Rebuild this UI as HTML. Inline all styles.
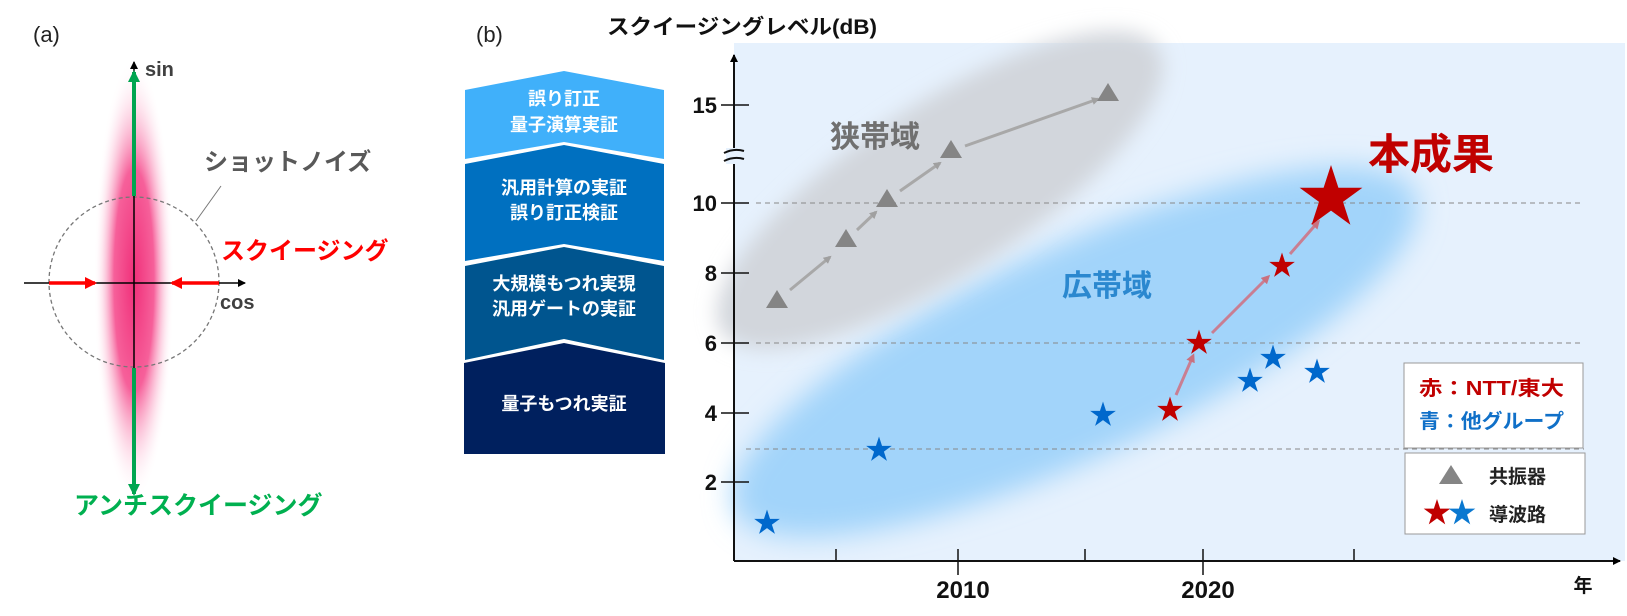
<!DOCTYPE html>
<html><head><meta charset="utf-8"><style>
html,body{margin:0;padding:0;background:#fff;}
svg{display:block;font-family:"Liberation Sans","Noto Sans CJK JP",sans-serif;font-weight:bold;}
</style></head><body>
<svg width="1627" height="616" viewBox="0 0 1627 616" xmlns="http://www.w3.org/2000/svg">
<defs>
<polygon id="st" points="0,-1 0.2245,-0.309 0.951,-0.309 0.3633,0.118 0.5878,0.809 0,0.382 -0.5878,0.809 -0.3633,0.118 -0.951,-0.309 -0.2245,-0.309"/>
<filter id="b1" x="-50%" y="-50%" width="200%" height="200%"><feGaussianBlur stdDeviation="14"/></filter>
<filter id="b2" x="-50%" y="-50%" width="200%" height="200%"><feGaussianBlur stdDeviation="10"/></filter>
<radialGradient id="pk" cx="0.5" cy="0.5" r="0.5">
<stop offset="0" stop-color="#f0307a"/><stop offset="0.5" stop-color="#f6609a"/><stop offset="1" stop-color="#ffffff" stop-opacity="0"/></radialGradient>
<marker id="ag" markerWidth="8" markerHeight="8" refX="6" refY="4" orient="auto" markerUnits="userSpaceOnUse"><path d="M0,0 L8,4 L0,8 Z" fill="#a0a0a0"/></marker>
<marker id="ar" markerWidth="9" markerHeight="9" refX="6" refY="4.5" orient="auto" markerUnits="userSpaceOnUse"><path d="M0,0 L9,4.5 L0,9 Z" fill="#d0606a"/></marker>
<marker id="ak" markerWidth="8" markerHeight="8" refX="7" refY="4" orient="auto" markerUnits="userSpaceOnUse"><path d="M0,0 L8,4 L0,8 Z" fill="#000"/></marker>
<marker id="agr" markerWidth="12" markerHeight="12" refX="10" refY="6" orient="auto" markerUnits="userSpaceOnUse"><path d="M0,0 L12,6 L0,12 Z" fill="#00a550"/></marker>
<marker id="ard" markerWidth="12" markerHeight="12" refX="10" refY="6" orient="auto" markerUnits="userSpaceOnUse"><path d="M0,0 L12,6 L0,12 Z" fill="#ff0000"/></marker>
</defs>

<!-- Panel (a) -->
<text x="33" y="42" font-size="22" font-weight="normal" fill="#222">(a)</text>
<ellipse cx="134" cy="280" rx="40" ry="222" fill="url(#pk)"/>
<circle cx="134" cy="282" r="85" fill="none" stroke="#777" stroke-width="1.3" stroke-dasharray="4,3"/>
<line x1="134" y1="470" x2="134" y2="62" stroke="#000" stroke-width="1.5" marker-end="url(#ak)"/>
<line x1="24" y1="283" x2="245" y2="283" stroke="#000" stroke-width="1.5" marker-end="url(#ak)"/>
<line x1="134" y1="196" x2="134" y2="72" stroke="#00a550" stroke-width="4" marker-end="url(#agr)"/>
<line x1="134" y1="368" x2="134" y2="494" stroke="#00a550" stroke-width="4" marker-end="url(#agr)"/>
<line x1="49" y1="283" x2="95" y2="283" stroke="#ff0000" stroke-width="3.5" marker-end="url(#ard)"/>
<line x1="219" y1="283" x2="172" y2="283" stroke="#ff0000" stroke-width="3.5" marker-end="url(#ard)"/>
<text x="145" y="76" font-size="20" fill="#404040">sin</text>
<text x="220" y="309" font-size="20" fill="#404040">cos</text>
<line x1="196" y1="221" x2="221" y2="186" stroke="#777" stroke-width="1"/>
<text x="204" y="170" font-size="24" fill="#595959">ショットノイズ</text>
<text x="221" y="259" font-size="24" fill="#ff0000">スクイージング</text>
<text x="74" y="514" font-size="25" fill="#00b050">アンチスクイージング</text>

<!-- Panel (b) -->
<text x="476" y="42" font-size="22" font-weight="normal" fill="#222">(b)</text>
<text x="607" y="34" font-size="21" fill="#111" textLength="270" lengthAdjust="spacingAndGlyphs">スクイージングレベル(dB)</text>

<!-- chevrons -->
<polygon points="465,90 564,71 664,90 664,159 564,142 465,159" fill="#40b0fa"/>
<polygon points="465,164 564,145 664,164 664,261 564,244 465,261" fill="#0070c0"/>
<polygon points="465,266 564,247 664,266 664,360 564,339 465,360" fill="#00558f"/>
<polygon points="464,363 564,343 665,363 665,454 464,454" fill="#00205e"/>
<g fill="#fff" font-size="18" text-anchor="middle">
<text x="564" y="105">誤り訂正</text>
<text x="564" y="131">量子演算実証</text>
<text x="564" y="194">汎用計算の実証</text>
<text x="564" y="219">誤り訂正検証</text>
<text x="564" y="290">大規模もつれ実現</text>
<text x="564" y="315">汎用ゲートの実証</text>
<text x="564" y="410">量子もつれ実証</text>
</g>

<!-- plot background -->
<rect x="734" y="43" width="891" height="518" fill="#e6f1fd"/>
<g filter="url(#b1)">
<ellipse cx="1075" cy="352" rx="375" ry="105" transform="rotate(-25 1075 352)" fill="#a2d4fa"/>
</g>
<g filter="url(#b2)">
<ellipse cx="940" cy="190" rx="260" ry="85" transform="rotate(-33 940 190)" fill="#d2d6dc"/>
</g>

<!-- grid -->
<g stroke="#888" stroke-width="1" stroke-dasharray="5,4">
<line x1="756" y1="203" x2="1584" y2="203"/>
<line x1="756" y1="343" x2="1584" y2="343"/>
<line x1="746" y1="449" x2="1584" y2="449"/>
</g>

<!-- axes -->
<line x1="734" y1="561" x2="734" y2="55" stroke="#111" stroke-width="2" marker-end="url(#ak)"/>
<line x1="734" y1="561" x2="1620" y2="561" stroke="#111" stroke-width="2" marker-end="url(#ak)"/>
<rect x="726" y="148" width="18" height="16" fill="#e6f1fd"/>
<path d="M724,153 Q734,148 744,151 M724,161 Q734,156 744,159" stroke="#111" stroke-width="2" fill="none"/>
<g stroke="#111" stroke-width="1.5">
<line x1="721" y1="105" x2="749" y2="105"/>
<line x1="721" y1="203" x2="749" y2="203"/>
<line x1="721" y1="273" x2="749" y2="273"/>
<line x1="721" y1="343" x2="749" y2="343"/>
<line x1="721" y1="413" x2="749" y2="413"/>
<line x1="721" y1="482" x2="749" y2="482"/>
<line x1="836" y1="549" x2="836" y2="561"/>
<line x1="958" y1="549" x2="958" y2="575"/>
<line x1="1085" y1="549" x2="1085" y2="561"/>
<line x1="1203" y1="549" x2="1203" y2="575"/>
<line x1="1354" y1="549" x2="1354" y2="561"/>
</g>
<g font-size="22" fill="#111" text-anchor="end">
<text x="717" y="113">15</text>
<text x="717" y="211">10</text>
<text x="717" y="281">8</text>
<text x="717" y="351">6</text>
<text x="717" y="421">4</text>
<text x="717" y="490">2</text>
</g>
<text x="963" y="598" font-size="24" fill="#111" text-anchor="middle">2010</text>
<text x="1208" y="598" font-size="24" fill="#111" text-anchor="middle">2020</text>
<text x="1583" y="592" font-size="19" fill="#111" text-anchor="middle">年</text>

<!-- gray arrows + triangles -->
<g stroke="#a8a8a8" stroke-width="3" marker-end="url(#ag)">
<line x1="790" y1="290" x2="830" y2="257"/>
<line x1="857" y1="230" x2="876" y2="212"/>
<line x1="900" y1="191" x2="940" y2="163"/>
<line x1="965" y1="146" x2="1098" y2="99"/>
</g>
<g fill="#858585">
<polygon points="777,290 788,308 766,308"/>
<polygon points="846,229 857,247 835,247"/>
<polygon points="887,189 898,207 876,207"/>
<polygon points="951,140 962,158 940,158"/>
<polygon points="1108,83 1119,101 1097,101"/>
</g>
<text x="830" y="147" font-size="30" fill="#707070">狭帯域</text>
<text x="1062" y="296" font-size="30" fill="#2b88cf">広帯域</text>

<!-- red arrows -->
<g stroke="#d07080" stroke-width="3" marker-end="url(#ar)" opacity="0.85">
<line x1="1176" y1="395" x2="1193" y2="356"/>
<line x1="1212" y1="333" x2="1268" y2="277"/>
<line x1="1290" y1="254" x2="1318" y2="222"/>
</g>
<!-- stars -->
<g fill="#0068cc">
<use href="#st" transform="translate(767,523) scale(13.5)"/>
<use href="#st" transform="translate(879,450) scale(13.5)"/>
<use href="#st" transform="translate(1103,415) scale(13.5)"/>
<use href="#st" transform="translate(1250,381) scale(13.5)"/>
<use href="#st" transform="translate(1273,358) scale(13.5)"/>
<use href="#st" transform="translate(1317,372) scale(13.5)"/>
</g>
<g fill="#c00000">
<use href="#st" transform="translate(1170,410) scale(13.5)"/>
<use href="#st" transform="translate(1199,343) scale(13.5)"/>
<use href="#st" transform="translate(1282,266) scale(13.5)"/>
<use href="#st" transform="translate(1331,198) scale(33)"/>
</g>
<text x="1368" y="169" font-size="42" fill="#c00000">本成果</text>

<!-- legends -->
<rect x="1404" y="363" width="179" height="85" fill="#fff" stroke="#999" stroke-width="1"/>
<text x="1419" y="395" font-size="20" fill="#c00000" textLength="145" lengthAdjust="spacingAndGlyphs">赤：NTT/東大</text>
<text x="1419" y="428" font-size="20" fill="#1070c8" textLength="145" lengthAdjust="spacingAndGlyphs">青：他グループ</text>
<rect x="1405" y="453" width="180" height="81" fill="#fff" stroke="#999" stroke-width="1"/>
<polygon points="1451,465 1463,484 1439,484" fill="#858585"/>
<text x="1489" y="483" font-size="19" fill="#222">共振器</text>
<use href="#st" transform="translate(1437,513) scale(14)" fill="#c00000"/>
<use href="#st" transform="translate(1462,513) scale(14)" fill="#0a78d0"/>
<text x="1489" y="521" font-size="19" fill="#222">導波路</text>
</svg>
</body></html>
